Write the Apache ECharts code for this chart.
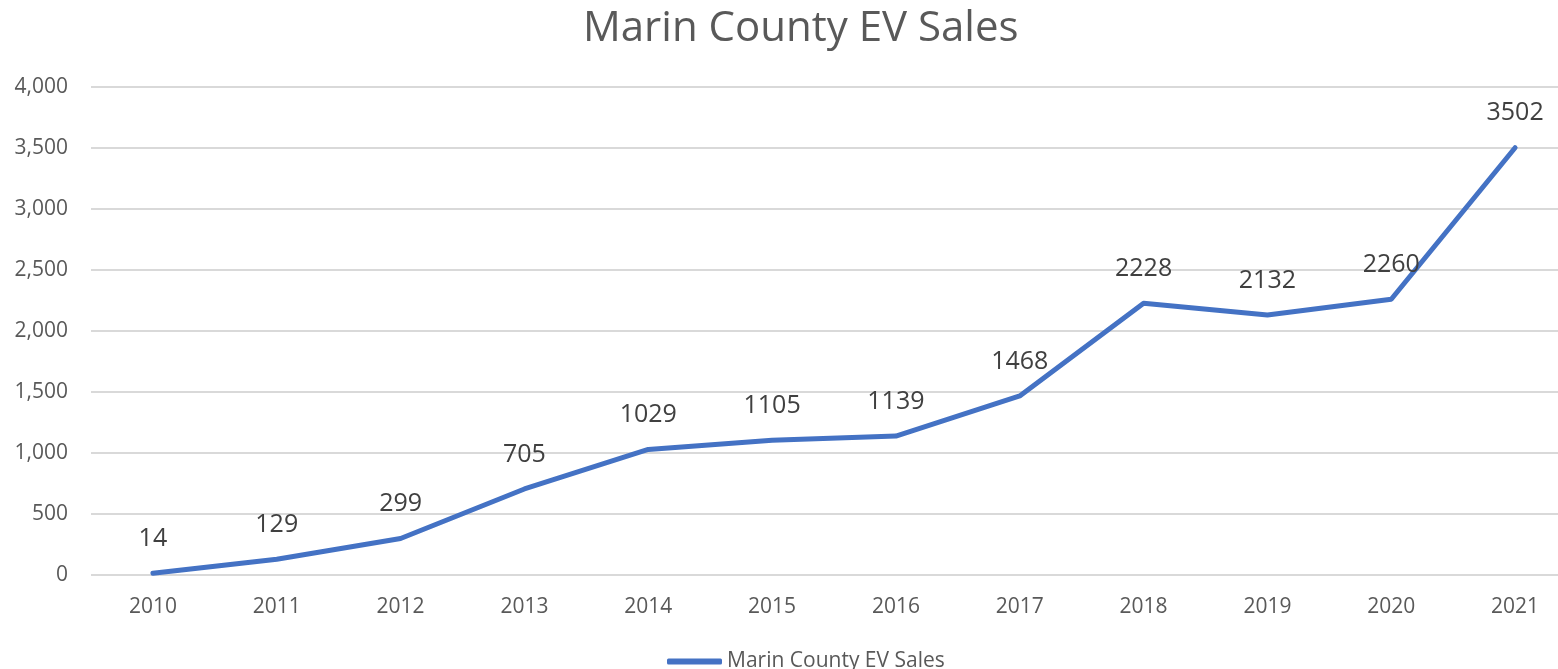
<!DOCTYPE html>
<html><head><meta charset="utf-8">
<script src="https://cdn.jsdelivr.net/npm/echarts@6/dist/echarts.min.js"></script>
<style>html,body{margin:0;padding:0;background:#fff;overflow:hidden}#c{width:1578px;height:669px}</style>
</head><body><div id="c"></div>
<script>
const years = ['2010','2011','2012','2013','2014','2015','2016','2017','2018','2019','2020','2021'];
const sales = [14,129,299,705,1029,1105,1139,1468,2228,2132,2260,3502];
const seriesName = 'Marin County EV Sales';
const titleText = 'Marin County EV Sales';

const chart = echarts.init(document.getElementById('c'), null, {renderer:'canvas'});
chart.setOption({
  animation:false,
  backgroundColor:'#fff',
  title:{text:titleText,left:578,top:3,textStyle:{fontFamily:'Open Sans',fontWeight:'normal',fontSize:42,color:'#595959'}},
  grid:{left:91,top:87,width:1486,height:488},
  legend:{data:[seriesName],left:662,top:646,itemWidth:55,itemHeight:6,itemGap:4,
    textStyle:{fontFamily:'Open Sans',fontSize:21,color:'#595959'},icon:'roundRect',
    itemStyle:{color:'#4472C4',borderWidth:0}},
  xAxis:{type:'category',data:years,boundaryGap:true,
    axisLine:{show:false},axisTick:{show:false},
    axisLabel:{margin:22,fontFamily:'Open Sans',fontSize:21,color:'#595959'}},
  yAxis:{type:'value',min:0,max:4000,interval:500,
    axisLine:{show:false},axisTick:{show:false},
    splitLine:{lineStyle:{color:'#d9d9d9',width:2}},
    axisLabel:{margin:23,fontFamily:'Open Sans',fontSize:21,color:'#595959',
      formatter:v=>v.toLocaleString('en-US')}},
  series:[{name:seriesName,type:'line',data:sales,symbol:'circle',symbolSize:0,showSymbol:true,
    lineStyle:{color:'#4472C4',width:5,cap:'round',join:'round'},itemStyle:{color:'#4472C4'},
    label:{show:true,position:'top',distance:22,fontFamily:'Open Sans',fontSize:25,color:'#404040'}}]
});
</script></body></html>
